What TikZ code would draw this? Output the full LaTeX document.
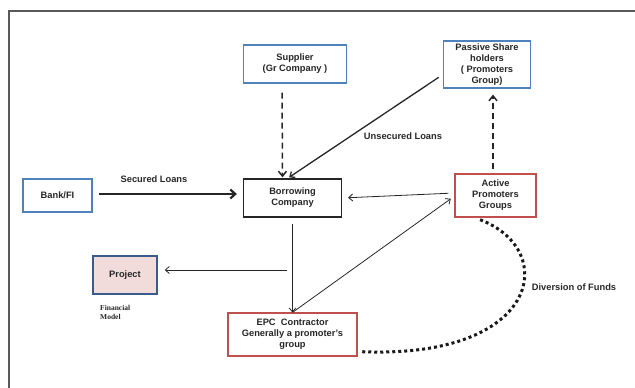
\documentclass[tikz,border=0pt]{standalone}
\usepackage{fontspec}
\setmainfont{Liberation Sans}
\newfontfamily\modelfont{Liberation Serif}
\usepackage{xcolor}
\usepackage{tikz}
\usetikzlibrary{arrows.meta}
\definecolor{boxblue}{HTML}{4F81BD}
\definecolor{boxred}{HTML}{C0504D}
\definecolor{projfill}{HTML}{F2DCDB}
\definecolor{projline}{HTML}{385D8A}
\definecolor{txtgray}{HTML}{262626}

\begin{document}
\begin{tikzpicture}[x=1pt,y=-1pt,
  every node/.style={font=\bfseries\fontsize{9.3}{11}\selectfont, text=txtgray, align=center, inner sep=0pt},
  bluebox/.style={draw=boxblue, line width=1.2pt, fill=white},
  redbox/.style={draw=boxred, line width=1.2pt, fill=white},
  blackbox/.style={draw=black!85, line width=1.2pt, fill=white},
  flow/.style={-{Straight Barb[length=4pt,width=7pt]}, black!85, line width=0.8pt},
  heavy/.style={-{Straight Barb[length=5pt,width=9pt]}, black!85, line width=2.2pt},
  loan/.style={-{Straight Barb[length=5pt,width=8pt]}, black!85, line width=1.5pt, dash pattern=on 6pt off 4pt}]
\useasboundingbox (0,0) rectangle (635,388);
\draw[black!65, line width=1.3pt] (9,388) -- (9,11) -- (635,11);
\node[bluebox, minimum width=69pt, minimum height=33pt] (Bank) at (57.5,195.5) {Bank/FI};
\node[blackbox, minimum width=98pt, minimum height=38pt] (Borrow) at (292.5,198) {Borrowing\\Company};
\node[bluebox, minimum width=103pt, minimum height=38pt] (Supplier) at (295,64) {Supplier\\(Gr Company )};
\node[bluebox, minimum width=87pt, minimum height=47pt] (Passive) at (487,64.5) {Passive Share\\holders\\( Promoters\\Group)};
\node[redbox, minimum width=81pt, minimum height=43pt] (Active) at (495.5,195.5) {Active\\Promoters\\Groups};
\node[draw=projline, line width=1.5pt, fill=projfill, minimum width=64pt, minimum height=38pt] (Project) at (125,275) {Project};
\node[redbox, minimum width=129pt, minimum height=43pt] (EPC) at (292.5,334.5) {EPC\ \ Contractor\\Generally a promoter's\\group};
\node[font=\modelfont\bfseries\fontsize{7.5}{9}\selectfont, align=left, anchor=west] (Model) at (100,312.5) {Financial\\Model};
\node (Secured) at (154,179) {Secured Loans};
\node (Unsecured) at (403,136) {Unsecured Loans};
\node (Diversion) at (574,287) {Diversion of Funds};
\coordinate (Split) at (287,270);
\draw[heavy, shorten <=6pt, shorten >=6pt] ([yshift=1.5pt]Bank.east) -- ([yshift=1.5pt]Bank.east -| Borrow.west);
\draw[loan, shorten <=9pt, shorten >=1pt] ([xshift=-13pt]Supplier.south) -- ([xshift=-10pt]Borrow.north);
\draw[flow, line width=1.3pt, shorten <=5pt, shorten >=2pt] ([yshift=-10pt]Passive.west) -- ([xshift=-5pt]Borrow.north);
\draw[flow, shorten <=6pt, shorten >=6pt] ([yshift=2.5pt]Active.west) -- (Borrow.east);
\draw[flow, shorten <=6pt] (Borrow.south) -- (EPC.north);
\draw[flow, shorten >=7pt] (Split) -- (Split -| Project.east);
\draw[flow, shorten >=2pt] (EPC.north) -- ([xshift=-2pt,yshift=20pt]Active.south west);
\draw[loan, shorten <=4pt, shorten >=6pt] ([xshift=-2.5pt]Active.north) -- ([xshift=6pt]Passive.south);
\draw[black!90, line width=3pt, dash pattern=on 3pt off 3pt, shorten <=6pt, shorten >=2pt] ([xshift=-21pt]Active.south) .. controls (560,250) and (540,360) .. ([yshift=-17pt]EPC.east);
\end{tikzpicture}
\end{document}
